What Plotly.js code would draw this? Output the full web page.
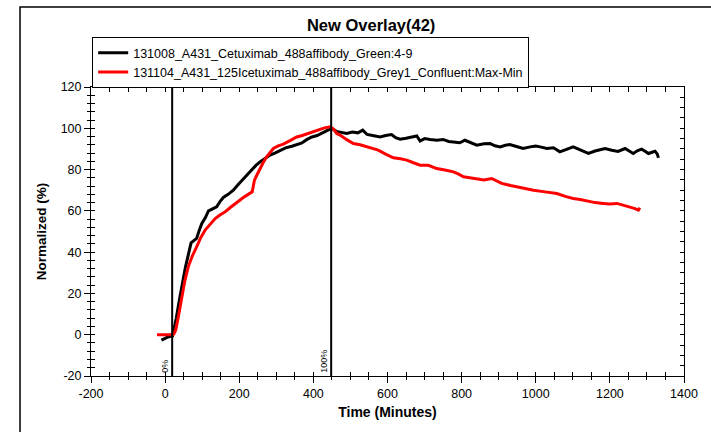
<!DOCTYPE html>
<html>
<head>
<meta charset="utf-8">
<script src="https://cdn.plot.ly/plotly-3.0.1.min.js"></script>
<style>
html,body{margin:0;padding:0;background:#fff;}
#chart{width:711px;height:432px;}
</style>
</head>
<body>
<div id="chart"></div>
<script>
var seriesNames = [
  "131008_A431_Cetuximab_488affibody_Green:4-9",
  "131104_A431_125Icetuximab_488affibody_Grey1_Confluent:Max-Min"
];
var blackX = [-10,-5,0,5,10,15,20,25,30,40,55,70,78,85,92,99,108,117,128,139,148,157,170,184,196,208,220,234,245,256,270,283,296,310,325,342,355,369,382,396,410,423,436,449,462,476,490,505,520,533,545,560,580,595,611,622,634,650,665,679,688,700,715,733,750,765,778,795,809,825,841,860,877,890,904,918,930,948,966,985,1000,1012,1030,1048,1065,1083,1101,1120,1142,1160,1175,1187,1205,1222,1241,1252,1263,1275,1286,1296,1304,1314,1322,1328,1331];
var blackY = [-2.6,-2.0,-1.8,-1.3,-1.2,-0.8,-0.6,3,8,18.4,32.9,44.5,45.5,46.7,50.5,53.9,56.5,60,61,62,64.5,66.5,68,70,72.5,74.9,77,79.7,82,83.7,85.5,87,88,89.4,90.5,91.3,92,92.9,94.5,95.8,96.5,97.8,98.7,100,98.5,98.0,97.5,98.2,97.8,99.1,97.0,96.5,95.8,96.5,97,95.5,94.7,95.2,95.6,96.3,93.8,95.0,94.6,94.2,94.6,93.6,93.4,93.0,94.2,92.8,91.8,92.5,92.6,91.5,91.0,91.8,92.1,91.2,90.2,91.0,91.4,91.0,90.2,90.6,88.6,89.8,91.0,89.5,87.8,89.0,89.6,90.2,89.4,88.8,90.2,89.0,87.8,89.2,89.9,88.8,87.8,88.4,88.9,87.5,85.7];
var redX = [-22,-10,0,10,20,24,28.6,35,44.8,53,62.6,73,85,96,108,121,135,148,162,175,189,200,211,220,229,235,238,241,248,256,265,274,283,292,305,319,337,355,370,386,400,413,430,445,455,463,472,490,508,526,544,560,575,595,616,635,652,670,688,710,733,755,778,792,805,822,841,860,881,895,908,932,958,976,994,1025,1057,1080,1101,1120,1138,1160,1182,1200,1219,1236,1254,1266,1277,1281];
var redY = [0,0,0,0,0,0.5,2.3,8,18.4,26,33,38,42.6,47,50.7,53.5,56.3,58,59.5,61.5,63.6,65,66.5,67.5,68.7,69.2,72,74.9,77.5,80.5,83.5,86.2,88.5,90.2,91.5,92.3,94,95.8,96.5,97.5,98.5,99.4,100.2,100.7,99.5,97.5,96.7,94.5,92.6,92,91,90.2,89.4,87.5,85.7,85.2,84.6,83.3,82.1,82.1,80.5,79.8,78.9,77.8,76.5,76,75.4,75,75.7,74.5,73.3,72.3,71.2,70.6,70,69.2,68.4,67,66,65.5,64.7,64,63.6,63.3,63.6,62.8,62,61.2,60.4,61.5];
var markerX = [19, 448];
var markerLabels = ["0%", "100%"];
var xTickVals = [-200, 0, 200, 400, 600, 800, 1000, 1200, 1400];
var xTickText = ["-200", "0", "200", "400", "600", "800", "1000", "1200", "1400"];
var yTickVals = [-20, 0, 20, 40, 60, 80, 100, 120];
var yTickText = ["-20", "0", "20", "40", "60", "80", "100", "120"];
var xRange = [-200, 1400];
var yRange = [-20, 120];

var FONT = "Arial, 'Liberation Sans', sans-serif";

var traces = [
  {x: blackX, y: blackY, name: seriesNames[0], type: "scatter", mode: "lines",
   line: {color: "#000000", width: 3}},
  {x: redX, y: redY, name: seriesNames[1], type: "scatter", mode: "lines",
   line: {color: "#ff0000", width: 3}},
  {x: [], y: [], xaxis: "x2", yaxis: "y2", showlegend: false, hoverinfo: "skip"},
  {x: [], y: [], xaxis: "x3", yaxis: "y3", showlegend: false, hoverinfo: "skip"}
];

var shapes = markerX.map(function (v) {
  return {type: "line", xref: "x", yref: "paper", x0: v, x1: v, y0: 0, y1: 1,
          line: {color: "#000", width: 2}, layer: "above"};
});
shapes.push({type: "rect", xref: "paper", yref: "paper",
  x0: -0.1197, x1: 1.5, y0: -0.5, y1: 1.2768,
  line: {color: "#000", width: 1.5}, fillcolor: "rgba(0,0,0,0)", layer: "below"});

var annotations = markerX.map(function (v, i) {
  return {x: v, xref: "x", y: 0, yref: "paper", text: markerLabels[i],
          textangle: -90, showarrow: false, xanchor: "right", yanchor: "bottom",
          xshift: -1, yshift: 1, font: {family: FONT, size: 9, color: "#000"}};
});

var layout = {
  width: 711, height: 432,
  margin: {l: 91, r: 27, t: 87, b: 56},
  paper_bgcolor: "#fff", plot_bgcolor: "#fff",
  font: {family: FONT, color: "#000"},
  showlegend: true,
  title: {text: "New Overlay(42)", x: 0.522, xanchor: "center", y: 0.942, yanchor: "middle",
          font: {family: FONT, size: 16.5, weight: "bold", color: "#000"}},
  legend: {x: 0.002, y: 1.173, xanchor: "left", yanchor: "top",
           bordercolor: "#000", borderwidth: 1, bgcolor: "#fff",
           font: {family: FONT, size: 12.5, color: "#000"}, tracegroupgap: 0,
           itemwidth: 30},
  xaxis: {range: xRange, autorange: false, tickmode: "array", tickvals: xTickVals, ticktext: xTickText,
          showgrid: false, zeroline: false, showline: true, linecolor: "#000", linewidth: 1,
          ticks: "outside", ticklen: 6, tickcolor: "#000", tickwidth: 1,
          minor: {tickmode: "linear", tick0: 0, dtick: 50, ticks: "outside", ticklen: 3, tickcolor: "#000", showgrid: false},
          tickfont: {family: FONT, size: 12.5, color: "#000"},
          title: {text: "Time (Minutes)", font: {family: FONT, size: 14, weight: "bold", color: "#000"}, standoff: 7}},
  yaxis: {range: yRange, autorange: false, tickmode: "array", tickvals: yTickVals, ticktext: yTickText,
          showgrid: false, zeroline: false, showline: true, linecolor: "#000", linewidth: 1,
          ticks: "outside", ticklen: 6, tickcolor: "#000", tickwidth: 1,
          minor: {tickmode: "linear", tick0: 0, dtick: 4, ticks: "outside", ticklen: 3, tickcolor: "#000", showgrid: false},
          tickfont: {family: FONT, size: 12.5, color: "#000"},
          title: {text: "Normalized (%)", font: {family: FONT, size: 13.5, weight: "bold", color: "#000"}, standoff: 10}},
  xaxis2: {range: xRange, autorange: false, overlaying: "x", side: "bottom", anchor: "y",
           dtick: 50, tick0: 0, ticks: "inside", ticklen: 4, tickcolor: "#000",
           showticklabels: false, showgrid: false, zeroline: false, showline: false},
  yaxis2: {range: yRange, autorange: false, overlaying: "y", side: "left", anchor: "x",
           dtick: 4, tick0: 0, ticks: "inside", ticklen: 4, tickcolor: "#000",
           showticklabels: false, showgrid: false, zeroline: false, showline: false},
  xaxis3: {range: xRange, autorange: false, overlaying: "x", side: "top", anchor: "y",
           dtick: 50, tick0: 0, ticks: "inside", ticklen: 5, tickcolor: "#000",
           showticklabels: false, showgrid: false, zeroline: false, showline: true, linecolor: "#000"},
  yaxis3: {range: yRange, autorange: false, overlaying: "y", side: "right", anchor: "x",
           dtick: 5, tick0: 0, ticks: "inside", ticklen: 4, tickcolor: "#000",
           showticklabels: false, showgrid: false, zeroline: false, showline: true, linecolor: "#000"},
  shapes: shapes,
  annotations: annotations
};

Plotly.newPlot("chart", traces, layout, {displayModeBar: false, staticPlot: true});
</script>
</body>
</html>
